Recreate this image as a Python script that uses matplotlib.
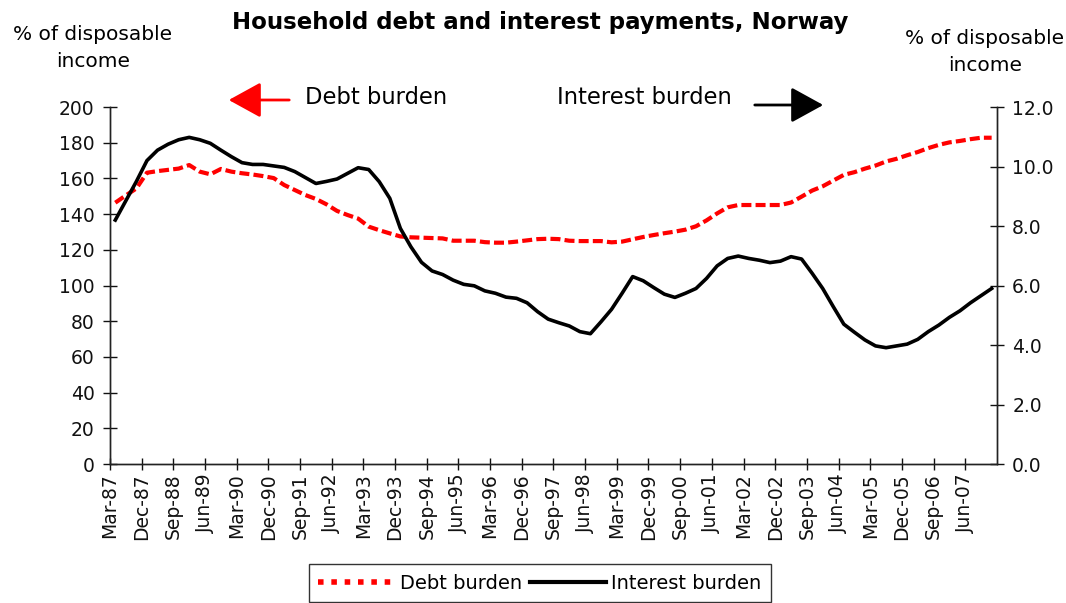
import matplotlib
matplotlib.use("Agg")
import matplotlib.pyplot as plt
from matplotlib.lines import Line2D
import numpy as np

# Quarterly observations, Mar-87 .. Dec-07
start_year, start_month = 1987, 3
debt_burden = [
    146.4, 150.5, 154.4, 163.2, 164.1, 164.8, 165.5, 167.5, 163.8, 162.3,
    165.3, 163.8, 162.9, 162.2, 161.3, 160.2, 156.3, 153.5, 150.7, 148.5,
    145.5, 141.8, 139.5, 137.5, 133.0, 131.0, 129.2, 127.5, 127.0, 126.8,
    126.6, 126.4, 125.1, 125.1, 125.1, 124.3, 124.0, 124.0, 124.6, 125.3,
    126.0, 126.2, 126.0, 125.1, 124.9, 124.9, 124.9, 124.2, 124.6, 125.9,
    127.2, 128.3, 129.3, 130.2, 131.3, 133.2, 136.5, 140.4, 143.8, 145.1,
    145.1, 145.1, 145.1, 145.1, 146.5, 149.8, 153.2, 155.6, 158.8, 162.0,
    163.5, 165.5, 167.2, 169.5, 171.0, 173.0, 174.8, 177.0, 178.8, 180.2,
    181.0, 182.0, 182.8, 182.8,
]
interest_burden = [
    8.20, 8.85, 9.50, 10.20, 10.55, 10.75, 10.90, 10.98, 10.90, 10.78,
    10.55, 10.33, 10.13, 10.07, 10.07, 10.02, 9.97, 9.83, 9.63, 9.43,
    9.50, 9.58, 9.77, 9.96, 9.90, 9.49, 8.93, 7.92, 7.30, 6.78,
    6.49, 6.37, 6.18, 6.04, 5.99, 5.82, 5.74, 5.61, 5.57, 5.42,
    5.12, 4.87, 4.75, 4.64, 4.45, 4.38, 4.78, 5.20, 5.74, 6.30,
    6.16, 5.93, 5.71, 5.60, 5.74, 5.90, 6.24, 6.66, 6.91, 6.99,
    6.91, 6.85, 6.77, 6.82, 6.97, 6.89, 6.41, 5.90, 5.29, 4.70,
    4.43, 4.17, 3.97, 3.91, 3.97, 4.03, 4.19, 4.45, 4.67, 4.93,
    5.15, 5.42, 5.66, 5.90,
]
left_ticks = [0, 20, 40, 60, 80, 100, 120, 140, 160, 180, 200]
right_ticks = [0, 2, 4, 6, 8, 10, 12]
label_every = 3

month_names = {3: "Mar", 6: "Jun", 9: "Sep", 12: "Dec"}
n = len(debt_burden)
quarter_labels = []
for i in range(n):
    m = start_month + 3 * i
    year = start_year + (m - 1) // 12
    month = (m - 1) % 12 + 1
    quarter_labels.append(f"{month_names[month]}-{year % 100:02d}")

plt.rcParams["font.family"] = ["DejaVu Sans"]

fig = plt.figure(figsize=(10.66, 6.03), dpi=100)
ax = fig.add_axes([0.1032, 0.2305, 0.832, 0.592])
ax2 = ax.twinx()

x = np.arange(n)
debt_line, = ax.plot(x, debt_burden, color="#ff0000", lw=3.0,
                     dashes=(2.4, 1.0), solid_capstyle="butt",
                     dash_capstyle="butt", zorder=3)
int_line, = ax2.plot(x, interest_burden, color="black", lw=2.6,
                     solid_joinstyle="round", zorder=3)

ax.set_xlim(-0.5, n - 0.5)
ax.set_ylim(0, 200)
ax2.set_ylim(0, 12)

ax.set_yticks(left_ticks)
ax.set_yticklabels([str(v) for v in left_ticks])
ax2.set_yticks(right_ticks)
ax2.set_yticklabels([f"{v:.1f}" for v in right_ticks])

tick_pos = [i - 0.5 for i in range(0, n, label_every)]
ax.set_xticks(tick_pos)
ax.set_xticklabels([quarter_labels[i] for i in range(0, n, label_every)],
                   rotation=90)

for a in (ax, ax2):
    a.spines["top"].set_visible(False)
    for s in a.spines.values():
        s.set_linewidth(1.0)
        s.set_color("#222222")

ax.tick_params(axis="x", direction="inout", length=9, width=1,
               labelsize=13.5, pad=2, colors="#111111")
ax.tick_params(axis="y", direction="inout", length=10, width=1,
               labelsize=13.5, pad=6, colors="#111111")
ax2.tick_params(axis="y", direction="inout", length=10, width=1,
                labelsize=13.5, pad=6, colors="#111111")

# Title and axis captions
fig.text(540 / 1066, 1 - 23 / 603, "Household debt and interest payments, Norway",
         ha="center", va="center", fontsize=16.5, fontweight="bold")
fig.text(93 / 1066, 1 - 48 / 603, "% of disposable\nincome", ha="center",
         va="center", fontsize=14.5, linespacing=1.5)
fig.text(985 / 1066, 1 - 52 / 603, "% of disposable\nincome", ha="center",
         va="center", fontsize=14.5, linespacing=1.5)

# Direction annotations
fig.text(305 / 1066, 1 - 98 / 603, "Debt burden", ha="left", va="center",
         fontsize=16.3)
fig.text(557 / 1066, 1 - 98 / 603, "Interest burden", ha="left", va="center",
         fontsize=16.3)
fig.add_artist(matplotlib.patches.FancyArrowPatch(
    (292 / 1066, 1 - 100 / 603), (226 / 1066, 1 - 100 / 603),
    transform=fig.transFigure, arrowstyle="-|>,head_length=1.0,head_width=0.55",
    mutation_scale=20, color="#ff0000", lw=2.0))
fig.add_artist(matplotlib.patches.FancyArrowPatch(
    (752 / 1066, 1 - 105 / 603), (826 / 1066, 1 - 105 / 603),
    transform=fig.transFigure, arrowstyle="-|>,head_length=1.0,head_width=0.55",
    mutation_scale=20, color="black", lw=2.0))

legend_handles = [
    Line2D([], [], color="#ff0000", lw=4.0, dashes=(1.0, 1.4)),
    Line2D([], [], color="black", lw=3.0),
]
leg = fig.legend(legend_handles, ["Debt burden", "Interest burden"],
                 loc="upper center", bbox_to_anchor=(540 / 1066, 1 - 564 / 603),
                 ncol=2, fontsize=14, frameon=True, fancybox=False,
                 edgecolor="black", handlelength=3.9, handletextpad=0.3,
                 columnspacing=0.4, borderpad=0.5, borderaxespad=0)
leg.get_frame().set_linewidth(1.0)

fig.savefig("out.png", dpi=100)
